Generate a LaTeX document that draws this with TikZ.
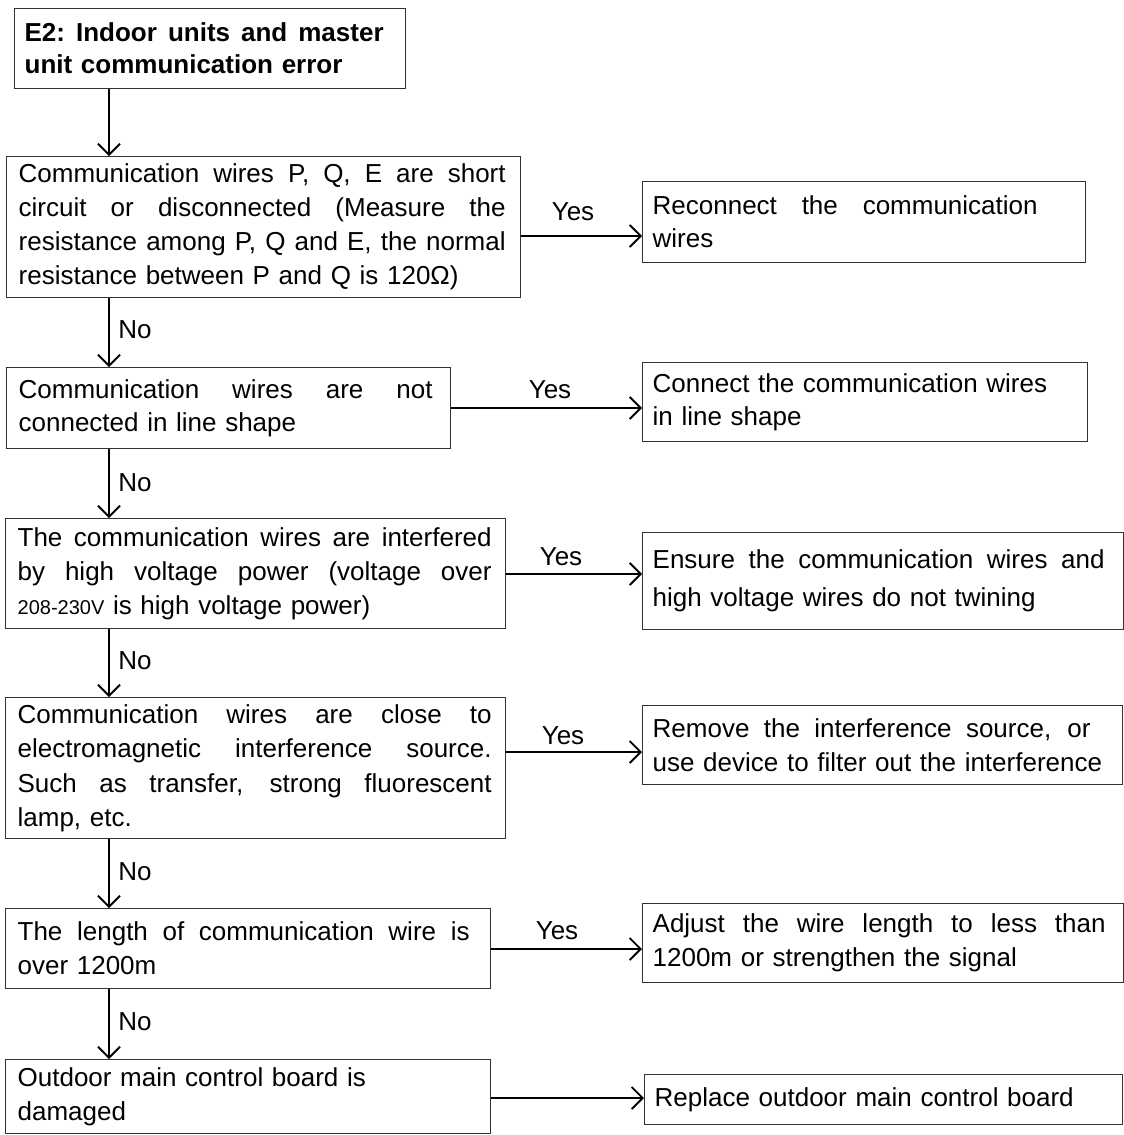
\documentclass[tikz,border=0pt]{standalone}
\usepackage{fontspec}
\setmainfont{Liberation Sans}
\usetikzlibrary{arrows.meta}
\newcommand\jline[2]{\leavevmode\hbox to #1pt{\spaceskip=\fontdimen2\font plus 1fil\relax\xspaceskip=\spaceskip #2}}
\tikzset{
  box/.style={draw=black!80, line width=1.3pt, anchor=north west, inner ysep=0pt,
    align=left, font=\fontsize{26}{34}\selectfont},
  arr/.style={line width=1.8pt, -{Straight Barb[length=11pt,width=22pt,line width=1.8pt]}},
  lbl/.style={font=\fontsize{26}{32}\selectfont, inner sep=0pt},
}
\begin{document}
\begin{tikzpicture}[x=1pt,y=-1pt]
\useasboundingbox (0,0) rectangle (1124,1135);
% left column
\node[box, minimum width=391, minimum height=80, text width=371, inner xsep=10, font=\bfseries\fontsize{26}{32}\selectfont] (t) at (14,8)
  {\jline{359}{E2: Indoor units and master}\\unit communication error};
\node[box, minimum width=514, minimum height=141, text width=490, inner xsep=12] (b1) at (6,156)
  {\jline{487}{Communication wires P, Q, E are short}\\
   \jline{487}{circuit or disconnected (Measure the}\\
   \jline{487}{resistance among P, Q and E, the normal}\\
   resistance between P and Q is 120Ω)};
\node[box, minimum width=444, minimum height=81, text width=420, inner xsep=12, font=\fontsize{26}{33}\selectfont] (b2) at (6,367)
  {\jline{414}{Communication wires are not}\\connected in line shape};
\node[box, minimum width=500, minimum height=110, text width=476, inner xsep=12] (b3) at (5,518)
  {\jline{474}{The communication wires are interfered}\\
   \jline{474}{by high voltage power (voltage over}\\
   {\fontsize{20}{34}\selectfont 208-230V} is high voltage power)};
\node[box, minimum width=500, minimum height=141, text width=476, inner xsep=12, font=\fontsize{26}{34.5}\selectfont] (b4) at (5,697)
  {\jline{474}{Communication wires are close to}\\
   \jline{474}{electromagnetic interference source.}\\
   \jline{474}{Such as transfer, strong fluorescent}\\
   lamp, etc.};
\node[box, minimum width=485, minimum height=80, text width=461, inner xsep=12] (b5) at (5,908)
  {\jline{452}{The length of communication wire is}\\over 1200m};
\node[box, minimum width=485, minimum height=74, text width=461, inner xsep=12] (b6) at (5,1059)
  {Outdoor main control board is\\damaged};
% right column
\node[box, minimum width=443, minimum height=81, text width=423, inner xsep=10, font=\fontsize{26}{33}\selectfont] (r1) at (642,181)
  {\jline{385}{Reconnect the communication}\\wires};
\node[box, minimum width=445, minimum height=79, text width=425, inner xsep=10, font=\fontsize{26}{33}\selectfont] (r2) at (642,362)
  {Connect the communication wires\\in line shape};
\node[box, minimum width=481, minimum height=97, text width=461, inner xsep=10, font=\fontsize{26}{38}\selectfont] (r3) at (642,532)
  {\jline{452}{Ensure the communication wires and}\\high voltage wires do not twining};
\node[box, minimum width=480, minimum height=79, text width=460, inner xsep=10] (r4) at (642,705)
  {\jline{438}{Remove the interference source, or}\\use device to filter out the interference};
\node[box, minimum width=481, minimum height=79, text width=461, inner xsep=10] (r5) at (642,903)
  {\jline{453}{Adjust the wire length to less than}\\1200m or strengthen the signal};
\node[box, minimum width=478, minimum height=50, text width=458, inner xsep=10] (r6) at (644,1074)
  {Replace outdoor main control board};
% connector guides
\coordinate (vx) at (109,0);
\coordinate (y1) at (0,236);
\coordinate (y2) at (0,408);
\coordinate (y3) at (0,574);
\coordinate (y4) at (0,752);
\coordinate (y5) at (0,949);
\coordinate (y6) at (0,1098);
% vertical connectors
\draw[arr] (t.south -| vx) -- (b1.north -| vx);
\draw[arr] (b1.south -| vx) -- (b2.north -| vx);
\draw[arr] (b2.south -| vx) -- (b3.north -| vx);
\draw[arr] (b3.south -| vx) -- (b4.north -| vx);
\draw[arr] (b4.south -| vx) -- (b5.north -| vx);
\draw[arr] (b5.south -| vx) -- (b6.north -| vx);
% horizontal connectors
\draw[arr] (b1.east |- y1) -- (r1.west |- y1);
\draw[arr] (b2.east |- y2) -- (r2.west |- y2);
\draw[arr] (b3.east |- y3) -- (r3.west |- y3);
\draw[arr] (b4.east |- y4) -- (r4.west |- y4);
\draw[arr] (b5.east |- y5) -- (r5.west |- y5);
\draw[arr] (b6.east |- y6) -- (r6.west |- y6);
% labels
\node[lbl] (yes1) at (573,212) {Yes};
\node[lbl] (yes2) at (550,390) {Yes};
\node[lbl] (yes3) at (561,557) {Yes};
\node[lbl] (yes4) at (563,736) {Yes};
\node[lbl] (yes5) at (557,931) {Yes};
\node[lbl] (no1) at (135,330) {No};
\node[lbl] (no2) at (135,483) {No};
\node[lbl] (no3) at (135,661) {No};
\node[lbl] (no4) at (135,872) {No};
\node[lbl] (no5) at (135,1022) {No};
\end{tikzpicture}
\end{document}
